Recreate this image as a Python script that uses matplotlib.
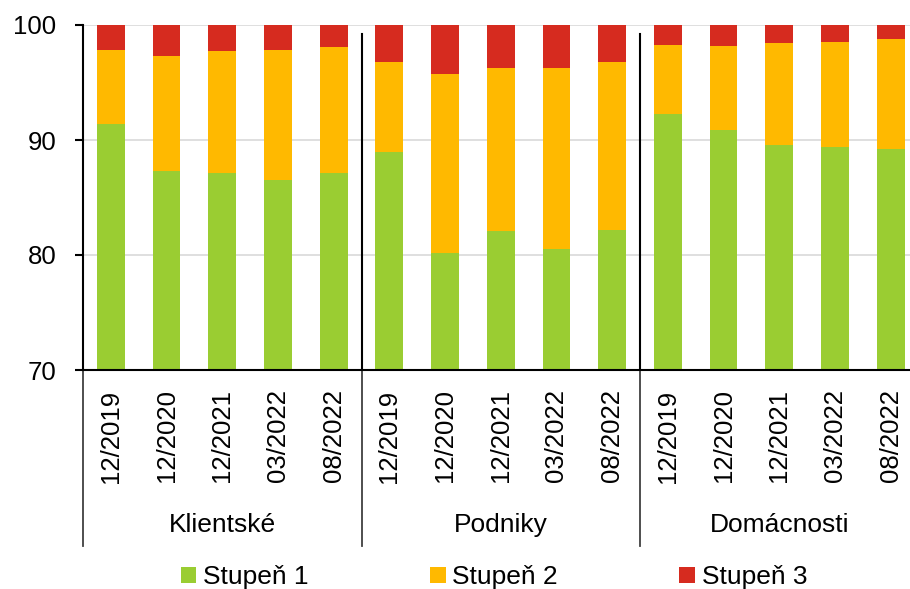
import numpy as np
import matplotlib
matplotlib.use("Agg")
import matplotlib.pyplot as plt

plt.rcParams['font.family'] = ['Liberation Sans', 'DejaVu Sans']

groups = ["Klientské", "Podniky", "Domácnosti"]
periods = ["12/2019", "12/2020", "12/2021", "03/2022", "08/2022"]

# podíl úvěrů podle stupně (v %)
stupen1 = [91.4, 87.3, 87.1, 86.5, 87.1,
           89.0, 80.2, 82.1, 80.5, 82.2,
           92.3, 90.9, 89.6, 89.4, 89.2]
stupen2 = [6.4, 10.0, 10.6, 11.3, 11.0,
           7.8, 15.5, 14.2, 15.8, 14.6,
           6.0, 7.3, 8.8, 9.15, 9.55]
stupen3 = [2.2, 2.7, 2.3, 2.2, 1.9,
           3.2, 4.3, 3.7, 3.7, 3.2,
           1.7, 1.8, 1.6, 1.45, 1.25]

c1, c2, c3 = "#9ACD32", "#FFB900", "#D62B1F"

fig = plt.figure(figsize=(9.1, 5.89), dpi=100)
ax = fig.add_axes([83/910, 1-370/589, (910-83)/910, 345/589])

x = np.arange(len(stupen1))
s1 = np.array(stupen1)
s2 = np.array(stupen2)
s3 = np.array(stupen3)
ax.bar(x, s1, width=0.5, color=c1, label="Stupeň 1")
ax.bar(x, s2, width=0.5, bottom=s1, color=c2, label="Stupeň 2")
ax.bar(x, s3, width=0.5, bottom=s1+s2, color=c3, label="Stupeň 3")

ax.set_ylim(70, 100)
ax.set_xlim(-0.5, (910-83)/55.7 - 0.5)
ax.set_yticks([70, 80, 90, 100])
ax.yaxis.grid(True, color="#d9d9d9", lw=1.2)
ax.set_axisbelow(True)
for s in ["top", "right"]:
    ax.spines[s].set_visible(False)
ax.spines["left"].set_linewidth(1.5)
ax.spines["bottom"].set_linewidth(1.5)
ax.tick_params(axis="y", labelsize=18.5, length=6, width=1.5, pad=13)
ax.tick_params(axis="x", length=0, pad=14)
ax.set_xticks(x)
ax.set_xticklabels(periods * len(groups), rotation=90, fontsize=18.5)

n = len(periods)
# oddělovače skupin
for g in range(1, len(groups)):
    ax.axvline(g*n - 0.5, ymax=0.975, color="black", lw=1.5)
trans = ax.get_xaxis_transform()
for g in range(len(groups)):
    ax.plot([g*n - 0.5]*2, [0, -0.51], transform=trans, color="#404040",
            lw=1.3, clip_on=False)
    ax.text(g*n + (n-1)/2, -0.45, groups[g], transform=trans,
            ha="center", va="center", fontsize=19)

fig.legend(loc="center", bbox_to_anchor=(494/910, 1-577/589), ncol=3,
           frameon=False, fontsize=19, handlelength=0.6, handleheight=0.55,
           handletextpad=0.25, columnspacing=4.6)

fig.savefig("out.png", dpi=100)
